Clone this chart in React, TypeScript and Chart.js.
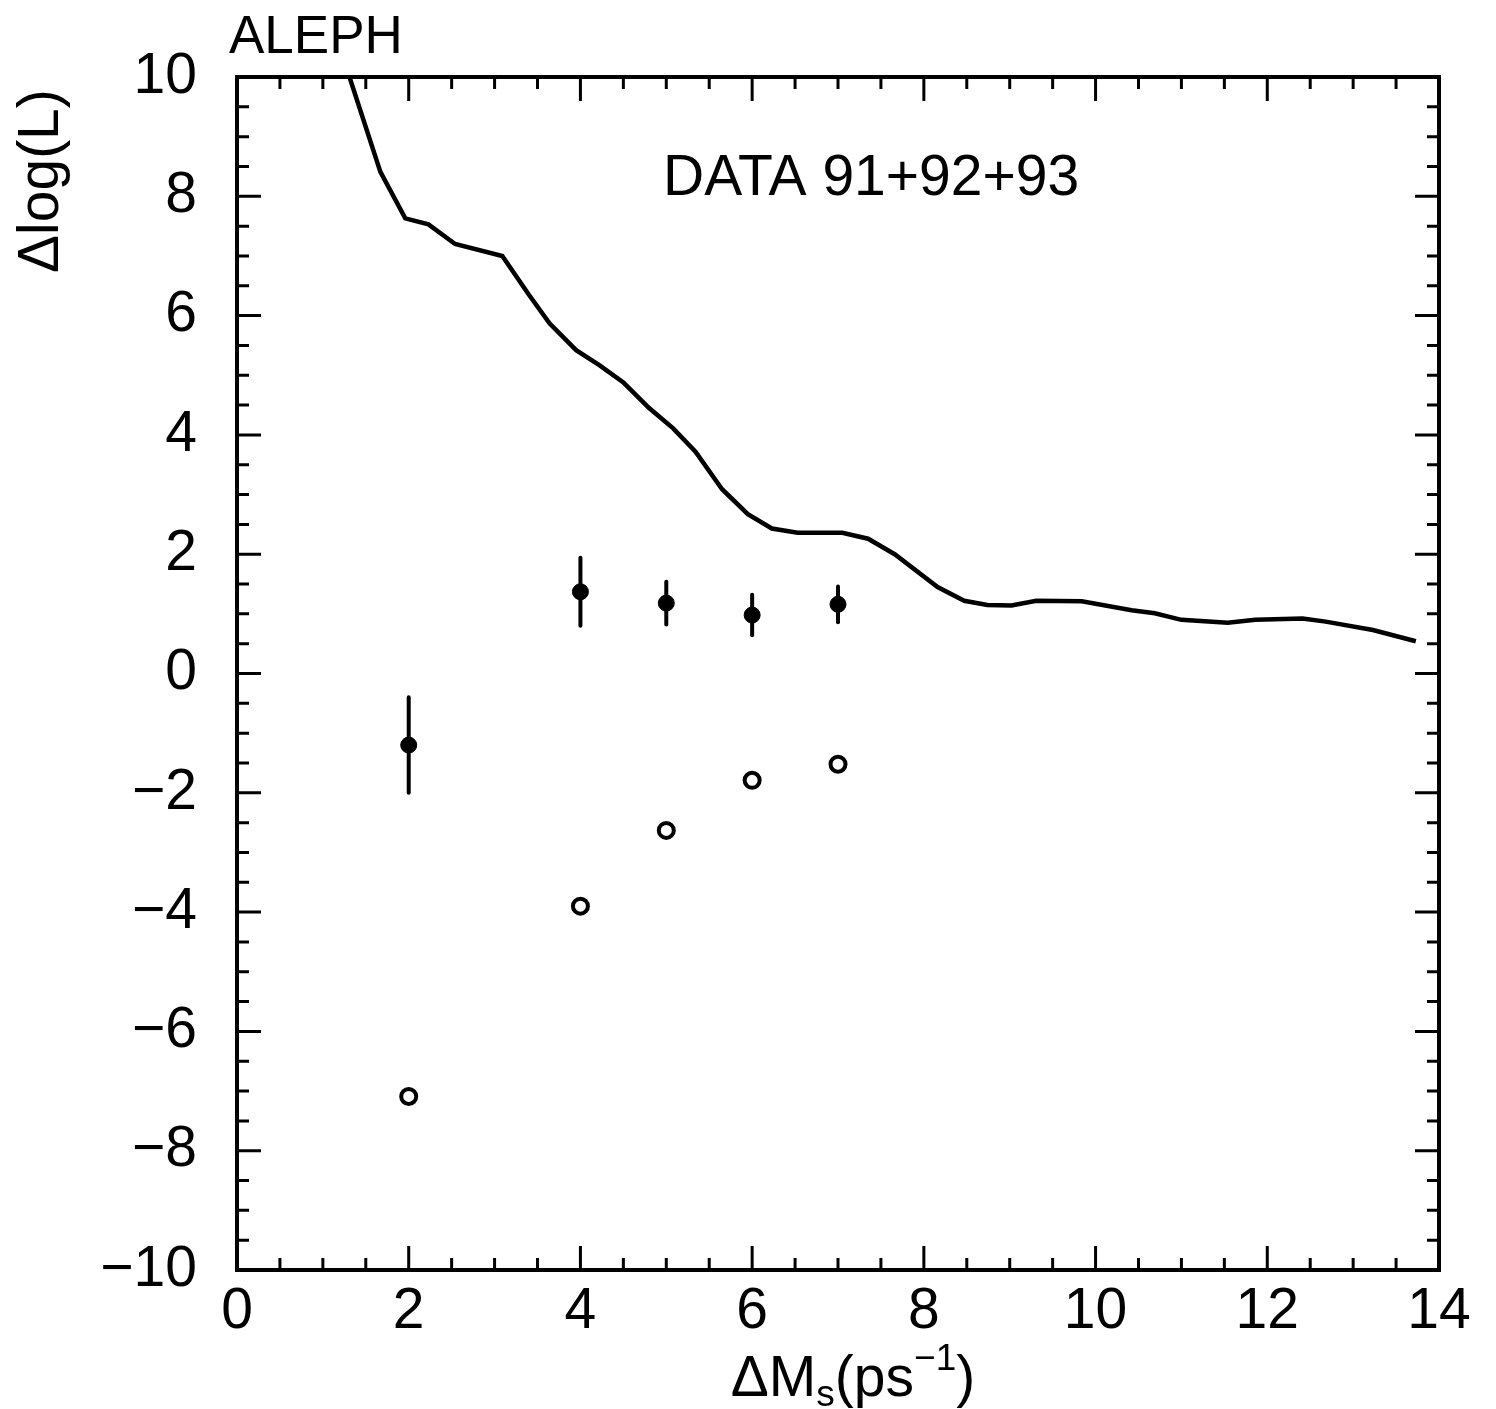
import React, { useEffect, useRef } from 'react';
import { Chart, registerables } from 'chart.js';

Chart.register(...registerables);

// Likelihood-difference limit curve
const curveX = [1.31, 1.67, 1.96, 2.23, 2.54, 3.09, 3.4, 3.64, 3.95, 4.22, 4.5, 4.8, 5.08, 5.34, 5.65, 5.95, 6.23, 6.53, 7.05, 7.35, 7.66, 8.16, 8.47, 8.74, 9.02, 9.31, 9.84, 10.42, 10.69, 11.0, 11.54, 11.86, 12.41, 12.68, 13.23, 13.73];
const curveY = [10, 8.41, 7.63, 7.53, 7.2, 7.0, 6.35, 5.87, 5.42, 5.17, 4.88, 4.45, 4.11, 3.72, 3.09, 2.67, 2.43, 2.36, 2.36, 2.26, 2.0, 1.45, 1.22, 1.15, 1.14, 1.22, 1.21, 1.06, 1.01, 0.9, 0.85, 0.9, 0.92, 0.87, 0.73, 0.54];

// Filled points with error bars
const filledX = [2, 4, 5, 6, 7];
const filledY = [-1.2, 1.37, 1.18, 0.98, 1.16];
const filledErr = [0.8, 0.57, 0.36, 0.34, 0.3];

// Open points
const openX = [2, 4, 5, 6, 7];
const openY = [-7.09, -3.9, -2.63, -1.79, -1.52];

const xTickValues = [0, 2, 4, 6, 8, 10, 12, 14];
const yTickValues = [-10, -8, -6, -4, -2, 0, 2, 4, 6, 8, 10];

const FONT = '"Liberation Sans", Arial, Helvetica, sans-serif';
const FS = 57;

const errorBarPlugin = {
  id: 'errorBars',
  beforeDatasetsDraw(chart: any) {
    const { ctx, scales } = chart;
    const xs = scales.x, ys = scales.y;
    ctx.save();
    ctx.strokeStyle = '#000';
    ctx.lineWidth = 4;
    ctx.lineCap = 'round';
    filledX.forEach((xv, i) => {
      const px = xs.getPixelForValue(xv);
      ctx.beginPath();
      ctx.moveTo(px, ys.getPixelForValue(filledY[i] + filledErr[i]));
      ctx.lineTo(px, ys.getPixelForValue(filledY[i] - filledErr[i]));
      ctx.stroke();
    });
    ctx.restore();
  },
};

const framePlugin = {
  id: 'frame',
  afterDatasetsDraw(chart: any) {
    const { ctx, chartArea, scales } = chart;
    const { left, right, top, bottom } = chartArea;
    const xs = scales.x, ys = scales.y;
    ctx.save();
    ctx.strokeStyle = '#000';
    ctx.lineWidth = 3;
    for (let v = 0; v <= 14.001; v += 0.5) {
      const major = Math.abs(v / 2 - Math.round(v / 2)) < 1e-6;
      const len = major ? 24 : 12;
      const px = xs.getPixelForValue(v);
      ctx.beginPath();
      ctx.moveTo(px, bottom);
      ctx.lineTo(px, bottom - len);
      ctx.moveTo(px, top);
      ctx.lineTo(px, top + len);
      ctx.stroke();
    }
    for (let v = -10; v <= 10.001; v += 0.5) {
      const major = Math.abs(v / 2 - Math.round(v / 2)) < 1e-6;
      const len = major ? 24 : 12;
      const py = ys.getPixelForValue(v);
      ctx.beginPath();
      ctx.moveTo(left, py);
      ctx.lineTo(left + len, py);
      ctx.moveTo(right, py);
      ctx.lineTo(right - len, py);
      ctx.stroke();
    }
    ctx.lineWidth = 4;
    ctx.strokeRect(left, top, right - left, bottom - top);
    ctx.restore();
  },
};

const textPlugin = {
  id: 'texts',
  afterDraw(chart: any) {
    const { ctx, chartArea } = chart;
    ctx.save();
    ctx.fillStyle = '#000';
    ctx.textBaseline = 'alphabetic';
    ctx.textAlign = 'left';
    ctx.font = `${FS - 4}px ${FONT}`;
    ctx.fillText('ALEPH', 229, 53);
    ctx.font = `${FS}px ${FONT}`;
    ctx.fillText('DATA 91+92+93', 663, 195);

    // y axis title, rotated
    ctx.save();
    ctx.translate(58, 273);
    ctx.rotate(-Math.PI / 2);
    ctx.font = `${FS}px ${FONT}`;
    ctx.fillText('\u0394log(L)', 0, 0);
    ctx.restore();

    // x axis title with subscript / superscript
    const big = `${FS}px ${FONT}`;
    const small = `${Math.round(FS * 0.65)}px ${FONT}`;
    const parts: [string, string, number][] = [
      ['\u0394M', big, 0],
      ['s', small, 10],
      ['(ps', big, 0],
      ['\u22121', small, -26],
      [')', big, 0],
    ];
    let total = 0;
    parts.forEach(([t, f]) => { ctx.font = f; total += ctx.measureText(t).width; });
    const cx = (chartArea.left + chartArea.right) / 2 + 15;
    let x = cx - total / 2;
    const base = 1396;
    parts.forEach(([t, f, dy]) => {
      ctx.font = f;
      ctx.fillText(t, x, base + dy);
      x += ctx.measureText(t).width;
    });
    ctx.restore();
  },
};

const fmt = (v: number) => (v < 0 ? '\u2212' + Math.abs(v) : String(v));

export default function App() {
  const ref = useRef<HTMLCanvasElement | null>(null);
  useEffect(() => {
    if (!ref.current) return;
    const chart = new Chart(ref.current, {
      type: 'scatter',
      data: {
        datasets: [
          {
            label: 'limit',
            data: curveX.map((x, i) => ({ x, y: curveY[i] })),
            showLine: true,
            borderColor: '#000',
            borderWidth: 4.5,
            pointRadius: 0,
            fill: false,
            tension: 0,
          },
          {
            label: 'filled',
            data: filledX.map((x, i) => ({ x, y: filledY[i] })),
            showLine: false,
            pointRadius: 8,
            pointBackgroundColor: '#000',
            pointBorderColor: '#000',
            pointBorderWidth: 1,
          },
          {
            label: 'open',
            data: openX.map((x, i) => ({ x, y: openY[i] })),
            showLine: false,
            pointRadius: 7.5,
            pointBackgroundColor: '#fff',
            pointBorderColor: '#000',
            pointBorderWidth: 4,
          },
        ],
      },
      options: {
        responsive: false,
        animation: false,
        devicePixelRatio: 1,
        layout: { padding: { top: 77, right: 57, left: 0, bottom: 0 } },
        plugins: { legend: { display: false }, tooltip: { enabled: false } },
        scales: {
          x: {
            type: 'linear',
            min: 0,
            max: 14,
            grid: { display: false, drawTicks: false },
            border: { display: false },
            afterBuildTicks: (s: any) => { s.ticks = xTickValues.map((v) => ({ value: v })); },
            ticks: {
              autoSkip: false,
              maxRotation: 0,
              padding: 8,
              color: '#000',
              font: { family: FONT, size: FS },
              callback: (v: any) => fmt(Number(v)),
            },
            afterFit: (s: any) => { s.height = 139; },
          },
          y: {
            type: 'linear',
            min: -10,
            max: 10,
            grid: { display: false, drawTicks: false },
            border: { display: false },
            afterBuildTicks: (s: any) => { s.ticks = yTickValues.map((v) => ({ value: v })); },
            ticks: {
              autoSkip: false,
              padding: 40,
              color: '#000',
              font: { family: FONT, size: FS },
              callback: (v: any) => fmt(Number(v)),
            },
            afterFit: (s: any) => { s.width = 237; },
          },
        },
      },
      plugins: [errorBarPlugin, framePlugin, textPlugin],
    } as any);
    return () => chart.destroy();
  }, []);
  return (
    <div style={{ position: 'absolute', left: 0, top: 0, width: 1496, height: 1409, background: '#fff' }}>
      <canvas ref={ref} width={1496} height={1409} />
    </div>
  );
}
